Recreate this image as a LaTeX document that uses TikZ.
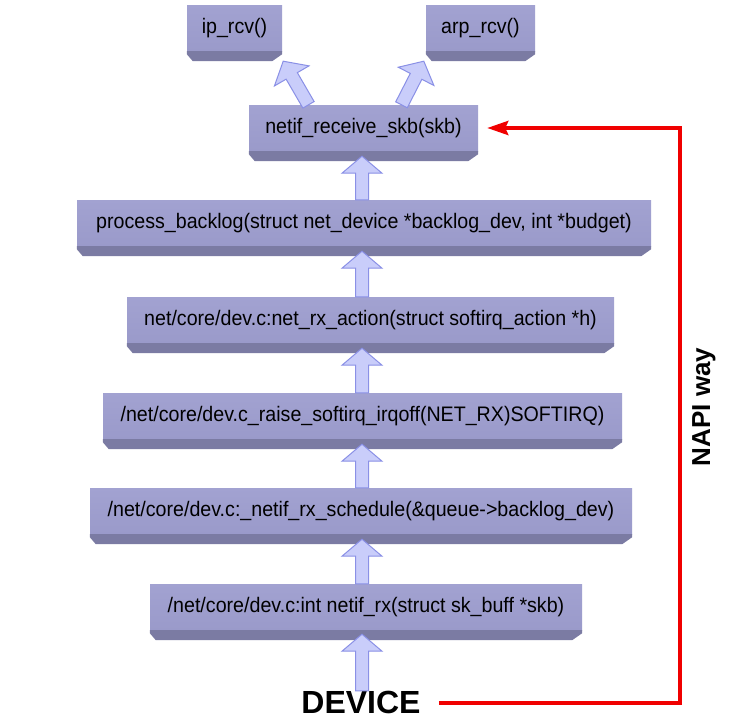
\documentclass[tikz,border=0pt]{standalone}
\usepackage{fontspec}
\setmainfont{Liberation Sans}
\newfontfamily\boxfont[FakeStretch=0.935]{Liberation Sans}
\usetikzlibrary{calc,arrows.meta}
\definecolor{face}{HTML}{9A9ACA}
\definecolor{facetop}{HTML}{A2A2D1}
\definecolor{bev}{HTML}{7B7BA3}
\definecolor{arrfill}{HTML}{C9CDFA}
\definecolor{arrline}{HTML}{8A90E6}
\definecolor{napired}{HTML}{F00000}
\newcommand\bevel[1]{\fill[bev] (#1.south west) -- ++(0,3) -- ++(6,7) -- ([shift={(-10,10)}]#1.south east) -- ++(10,-7) -- (#1.south east) -- cycle;}
\newcommand\barrow[2]{%
  \coordinate (bA) at #1; \coordinate (bB) at #2;
  \coordinate (bH) at ($(bB)!17pt!(bA)$);
  \draw[blk] ($(bA)!6.5pt!90:(bB)$) -- ($(bH)!6.5pt!-90:(bA)$) -- ($(bH)!20pt!-90:(bA)$) -- (bB) -- ($(bH)!20pt!90:(bA)$) -- ($(bH)!6.5pt!90:(bA)$) -- ($(bA)!6.5pt!-90:(bB)$) -- cycle;}
\begin{document}
\begin{tikzpicture}[x=1pt,y=-1pt,
  box/.style={top color=facetop, bottom color=face, draw=none, inner sep=0pt, minimum height=46pt, font=\boxfont\fontsize{21}{24}\selectfont},
  blk/.style={fill=arrfill, draw=arrline, line width=1pt, line join=miter},
  napiline/.style={draw=napired, line width=4pt, line join=miter},
  bigtxt/.style={font=\fontsize{32}{36}\selectfont\bfseries}]
\useasboundingbox[fill=white] (0,0) rectangle (737,723);
\node[box, minimum width=95pt] (ip) at (234.5,28) {ip\_rcv()};
\node[box, minimum width=109pt] (arp) at (480.5,28) {arp\_rcv()};
\node[box, minimum width=229pt] (nrs) at (363.5,128) {netif\_receive\_skb(skb)};
\node[box, minimum width=574pt] (pb) at (364,223) {process\_backlog(struct net\_device *backlog\_dev, int *budget)};
\node[box, minimum width=487pt] (nra) at (370.5,320) {net/core/dev.c:net\_rx\_action(struct softirq\_action *h)};
\node[box, minimum width=519pt] (rs) at (362.5,416) {/net/core/dev.c\_raise\_softirq\_irqoff(NET\_RX)SOFTIRQ)};
\node[box, minimum width=542pt] (sch) at (361,511) {/net/core/dev.c:\_netif\_rx\_schedule(\&queue->backlog\_dev)};
\node[box, minimum width=432pt] (rx) at (366,607) {/net/core/dev.c:int netif\_rx(struct sk\_buff *skb)};
\foreach \n in {ip,arp,nrs,pb,nra,rs,sch,rx} {\bevel{\n}}
\node[bigtxt, inner sep=0pt] (dev) at (361,702.5) {DEVICE};
\node[font=\fontsize{26}{30}\selectfont\bfseries, rotate=90, anchor=base, inner sep=0pt] (napi) at (710,407) {NAPI way};
\coordinate (ax) at (362,0);
\barrow{(ax |- dev.north)}{([yshift=-4pt]ax |- rx.south)}
\barrow{(ax |- rx.north)}{([yshift=-5pt]ax |- sch.south)}
\barrow{(ax |- sch.north)}{([yshift=-5pt]ax |- rs.south)}
\barrow{(ax |- rs.north)}{([yshift=-5pt]ax |- nra.south)}
\barrow{(ax |- nra.north)}{([yshift=-5pt]ax |- pb.south)}
\barrow{(ax |- pb.north)}{([yshift=-5pt]ax |- nrs.south)}
\barrow{([xshift=-55pt]nrs.north)}{([shift={(1,10)}]ip.south east)}
\barrow{([xshift=38pt]nrs.north)}{([shift={(-2,10)}]arp.south west)}
\coordinate (turn) at (680,0);
\draw[napiline, -{Stealth[length=21pt,width=14pt,inset=3pt]}] ([xshift=18pt]dev.east) -- (turn |- dev.east) -- (turn |- nrs.east) -- ([xshift=9pt]nrs.east);
\end{tikzpicture}
\end{document}
